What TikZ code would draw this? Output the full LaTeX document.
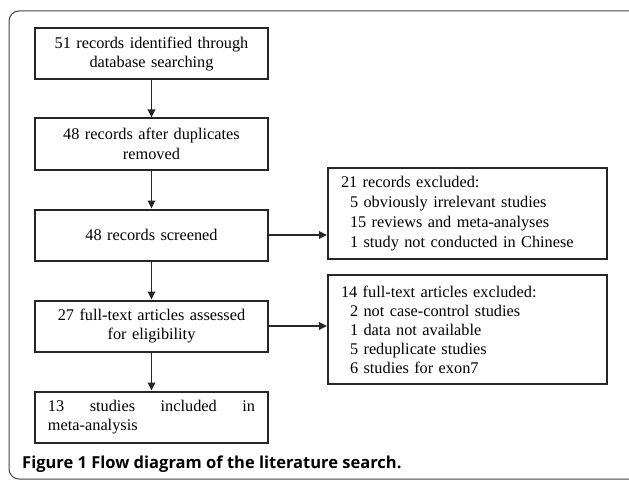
\documentclass[tikz,border=0pt]{standalone}
\usepackage{fontspec}
\setmainfont{Liberation Serif}
\newfontfamily\capfont{Open Sans}
\usetikzlibrary{arrows.meta,positioning,calc}

\begin{document}
\begin{tikzpicture}[
  x=1bp, y=-1bp,
  font=\fontsize{16.3bp}{19.5bp}\selectfont,
  stage/.style={
    draw=black!85,
    line width=2bp,
    minimum width=233bp,
    minimum height=51bp,
    text width=207bp,
    inner xsep=13bp,
    inner ysep=3bp,
    align=center
  },
  excluded/.style={
    draw=black!85,
    line width=2bp,
    minimum width=279bp,
    text width=253bp,
    inner xsep=13bp,
    inner ysep=3bp,
    align=left,
    font=\fontsize{16.3bp}{19.8bp}\selectfont
  },
  flow/.style={-{Triangle[length=8bp,width=7.5bp]}, draw=black!85, line width=1.7bp},
  node distance=38bp
]
\useasboundingbox (0,0) rectangle (629,480);
\clip (0,0) rectangle (629,480);

% outer frame
\draw[black!75, line width=1bp, rounded corners=10bp] (9,11) rectangle (645,479);

\node[stage] (identified) at (151.5,54)
  {51 records identified through\\database searching};
\node[stage, below=37bp of identified] (deduplicated)
  {48 records after duplicates\\removed};
\node[stage, below=of deduplicated] (screened)
  {48 records screened};
\node[stage, below=of screened] (assessed)
  {27 full-text articles assessed\\for eligibility};
\node[stage, below=of assessed, align=justify] (included)
  {13 studies included in \mbox{meta-analysis}};

\node[excluded, minimum height=91bp] (excl-screen) at (467.5,213.5)
  {21 records excluded:\\
   \hspace*{9bp}5 obviously irrelevant studies\\
   \hspace*{9bp}15 reviews and meta-analyses\\
   \hspace*{9bp}1 study not conducted in Chinese};
\node[excluded, minimum height=109bp, font=\fontsize{16.3bp}{19bp}\selectfont] (excl-full) at (467.5,329.5)
  {14 full-text articles excluded:\\
   \hspace*{9bp}2 not case-control studies\\
   \hspace*{9bp}1 data not available\\
   \hspace*{9bp}5 reduplicate studies\\
   \hspace*{9bp}6 studies for exon7};

\draw[flow] (identified) -- (deduplicated);
\draw[flow] (deduplicated) -- (screened);
\draw[flow] (screened) -- (assessed);
\draw[flow] (assessed) -- (included);
\draw[flow] (screened.east) -- (screened.east -| excl-screen.west);
\draw[flow] (assessed.east) -- (assessed.east -| excl-full.west);

\node[anchor=base west, inner sep=0pt, font=\capfont\bfseries\fontsize{16.5bp}{20bp}\selectfont] (caption) at (22,468)
  {Figure 1 Flow diagram of the literature search.};
\end{tikzpicture}
\end{document}
